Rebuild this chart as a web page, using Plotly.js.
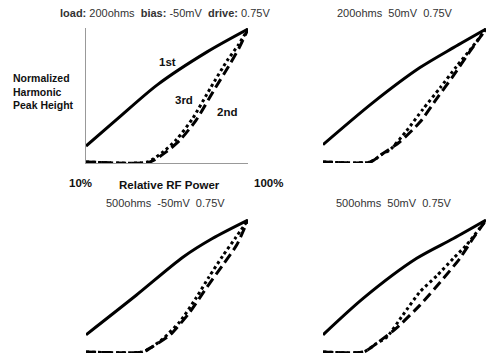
<!DOCTYPE html>
<html>
<head>
<meta charset="utf-8">
<script src="https://cdn.plot.ly/plotly-3.0.1.min.js"></script>
<style>html,body{margin:0;padding:0;background:#fff;}#chart{width:487px;height:358px;}</style>
</head>
<body>
<div id="chart"></div>
<script>
// Panel titles
const panelTitles = [
  "<b>load:</b> 200ohms  <b>bias:</b> -50mV  <b>drive:</b> 0.75V",
  "200ohms  50mV  0.75V",
  "500ohms  -50mV  0.75V",
  "500ohms  50mV  0.75V"
];
const seriesNames = ["1st", "2nd", "3rd"];

// Panel 1: 200ohms -50mV
const p1FirstX = [0, 0.19, 0.44, 0.75, 1];
const p1FirstY = [0.12, 0.32, 0.58, 0.83, 1];
const p1SecondX = [0, 0.395, 0.50, 0.58, 0.68, 0.79, 0.89, 0.95, 1];
const p1SecondY = [0, 0, 0.08, 0.164, 0.315, 0.54, 0.74, 0.87, 1];
const p1ThirdX = [0, 0.38, 0.48, 0.56, 0.66, 0.77, 0.87, 0.94, 1];
const p1ThirdY = [0, 0, 0.08, 0.17, 0.33, 0.56, 0.76, 0.88, 1];

// Panel 2: 200ohms 50mV
const p2FirstX = [0, 0.31, 0.595, 0.80, 1];
const p2FirstY = [0.13, 0.45, 0.71, 0.86, 1];
const p2SecondX = [0, 0.29, 0.37, 0.47, 0.595, 0.70, 0.80, 0.90, 1];
const p2SecondY = [0, 0, 0.065, 0.15, 0.30, 0.48, 0.65, 0.83, 1];
const p2ThirdX = [0, 0.29, 0.37, 0.41, 0.51, 0.615, 0.72, 0.82, 0.90, 1];
const p2ThirdY = [0, 0, 0.065, 0.09, 0.23, 0.40, 0.56, 0.72, 0.84, 1];

// Panel 3: 500ohms -50mV
const p3FirstX = [0, 0.31, 0.60, 0.78, 1];
const p3FirstY = [0.13, 0.43, 0.72, 0.86, 1];
const p3SecondX = [0, 0.35, 0.41, 0.52, 0.64, 0.74, 0.845, 0.93, 1];
const p3SecondY = [0, 0, 0.04, 0.13, 0.30, 0.48, 0.66, 0.81, 1];
const p3ThirdX = [0, 0.35, 0.41, 0.475, 0.58, 0.68, 0.76, 0.845, 0.92, 1];
const p3ThirdY = [0, 0, 0.04, 0.10, 0.23, 0.41, 0.57, 0.73, 0.86, 1];

// Panel 4: 500ohms 50mV
const p4FirstX = [0, 0.25, 0.575, 0.80, 1];
const p4FirstY = [0.13, 0.41, 0.71, 0.86, 1];
const p4SecondX = [0, 0.25, 0.33, 0.45, 0.595, 0.72, 0.84, 0.92, 1];
const p4SecondY = [0, 0, 0.066, 0.18, 0.355, 0.53, 0.71, 0.86, 1];
const p4ThirdX = [0, 0.25, 0.33, 0.39, 0.49, 0.595, 0.70, 0.80, 0.88, 1];
const p4ThirdY = [0, 0, 0.066, 0.11, 0.28, 0.456, 0.58, 0.71, 0.81, 1];

const xLabels = ["10%", "100%"];
const xTitle = "Relative RF Power";
const yTitle = "Normalized<br>Harmonic<br>Peak Height";

const W = 487, H = 358;
const px = v => v / W;
const py = v => 1 - v / H;

const panels = [
  [p1FirstX, p1FirstY, p1SecondX, p1SecondY, p1ThirdX, p1ThirdY],
  [p2FirstX, p2FirstY, p2SecondX, p2SecondY, p2ThirdX, p2ThirdY],
  [p3FirstX, p3FirstY, p3SecondX, p3SecondY, p3ThirdX, p3ThirdY],
  [p4FirstX, p4FirstY, p4SecondX, p4SecondY, p4ThirdX, p4ThirdY]
];
const styles = [
  {color: "#000", width: 3, dash: "solid", shape: "spline", smoothing: 0.8},
  {color: "#000", width: 3, dash: "10px,5px", shape: "spline", smoothing: 0.6},
  {color: "#000", width: 3, dash: "3px,3px", shape: "spline", smoothing: 0.6}
];
const traces = [];
panels.forEach((p, i) => {
  const ax = i === 0 ? "" : String(i + 1);
  for (let s = 0; s < 3; s++) {
    traces.push({
      x: p[2 * s], y: p[2 * s + 1], type: "scatter", mode: "lines",
      name: seriesNames[s], line: styles[s], showlegend: false,
      xaxis: "x" + ax, yaxis: "y" + ax, hoverinfo: "skip"
    });
  }
});

const xDom = [[86, 248], [323, 486]];
const yDom = [[29, 162], [220, 352]];
const layout = {
  width: W, height: H,
  margin: {l: 0, r: 0, t: 0, b: 0},
  paper_bgcolor: "#fff", plot_bgcolor: "rgba(0,0,0,0)",
  font: {family: "Liberation Sans, Arial, sans-serif", color: "#000"},
  annotations: [], shapes: []
};
for (let i = 0; i < 4; i++) {
  const ax = i === 0 ? "" : String(i + 1);
  const xd = xDom[i % 2], yd = yDom[Math.floor(i / 2)];
  const show = i === 0;
  layout["xaxis" + ax] = {
    domain: [px(xd[0]), px(xd[1])], range: [0, 1], anchor: "y" + ax,
    showgrid: false, zeroline: false, showticklabels: false, ticks: "",
    showline: show, linecolor: "#999", linewidth: 1, fixedrange: true
  };
  layout["yaxis" + ax] = {
    domain: [py(yd[1] + 1), py(yd[0] - 1)], range: [-0.008, 1.008], anchor: "x" + ax,
    showgrid: false, zeroline: false, showticklabels: false, ticks: "",
    showline: show, linecolor: "#999", linewidth: 1, fixedrange: true
  };
}
const titlePos = [[165, 13], [395, 13], [165, 203], [394, 203]];
panelTitles.forEach((t, i) => {
  layout.annotations.push({
    text: t, xref: "paper", yref: "paper", x: px(titlePos[i][0]), y: py(titlePos[i][1]),
    xanchor: "center", yanchor: "middle", showarrow: false,
    font: {size: 11, color: "#333"}
  });
});
layout.annotations.push({
  text: "<b>" + yTitle + "</b>", xref: "paper", yref: "paper", x: px(11), y: py(91),
  xanchor: "left", yanchor: "middle", align: "left", showarrow: false,
  font: {size: 10.5, color: "#111"}
});
layout.annotations.push({
  text: "<b>" + xLabels[0] + "</b>", xref: "paper", yref: "paper", x: px(80), y: py(183),
  xanchor: "center", yanchor: "middle", showarrow: false, font: {size: 11.5, color: "#111"}
});
layout.annotations.push({
  text: "<b>" + xLabels[1] + "</b>", xref: "paper", yref: "paper", x: px(268), y: py(183),
  xanchor: "center", yanchor: "middle", showarrow: false, font: {size: 11.5, color: "#111"}
});
layout.annotations.push({
  text: "<b>" + xTitle + "</b>", xref: "paper", yref: "paper", x: px(169), y: py(185),
  xanchor: "center", yanchor: "middle", showarrow: false, font: {size: 11.5, color: "#111"}
});
const labelPos = [[167, 62], [227, 112], [184, 100]];
seriesNames.forEach((n, i) => {
  layout.annotations.push({
    text: "<b>" + n + "</b>", xref: "paper", yref: "paper", x: px(labelPos[i][0]), y: py(labelPos[i][1]),
    xanchor: "center", yanchor: "middle", showarrow: false, font: {size: 11.5, color: "#111"}
  });
});
Plotly.newPlot("chart", traces, layout, {staticPlot: true, displayModeBar: false});
</script>
</body>
</html>
